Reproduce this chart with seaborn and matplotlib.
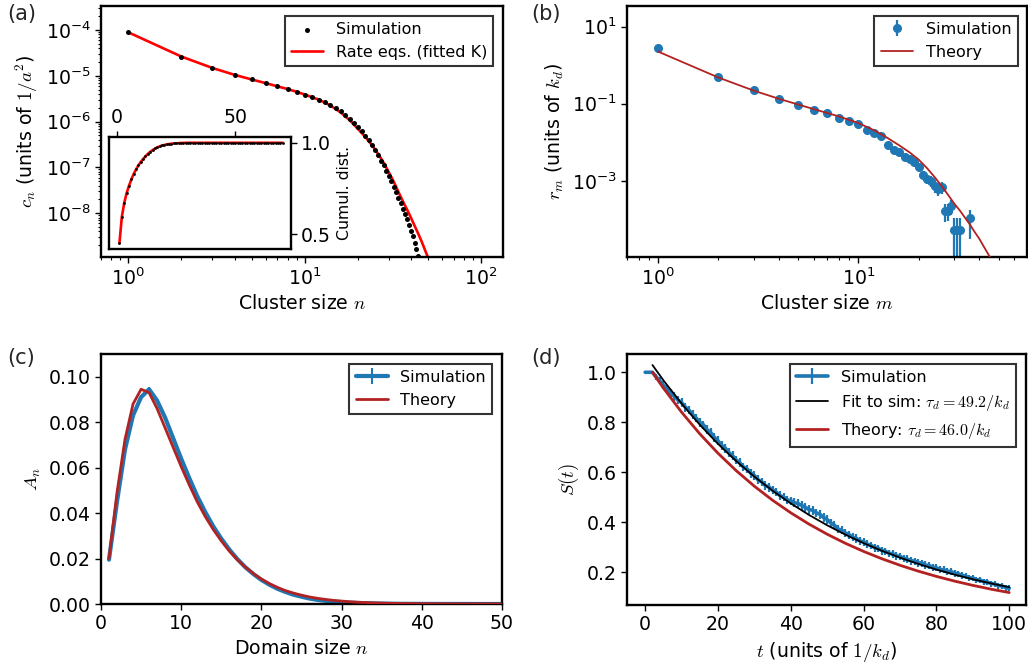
import numpy as np
import pandas as pd
import matplotlib
matplotlib.use("Agg")
import matplotlib.pyplot as plt
import seaborn as sns
from matplotlib.ticker import FixedLocator, NullLocator, FormatStrFormatter

# ---------------- data: panel (a) ----------------
n_sim_a = list(range(1, 45))
c_sim_a = [9.12e-5, 2.63e-5, 1.45e-5, 1.05e-5, 8.32e-6, 6.92e-6, 5.89e-6, 5.13e-6, 4.37e-6, 3.80e-6,
           3.39e-6, 3.02e-6, 2.63e-6, 2.29e-6, 1.95e-6, 1.66e-6, 1.38e-6, 1.15e-6, 9.33e-7, 7.59e-7,
           6.17e-7, 4.90e-7, 3.89e-7, 3.02e-7, 2.34e-7, 1.82e-7, 1.41e-7, 1.10e-7, 8.51e-8, 6.61e-8,
           5.01e-8, 3.80e-8, 2.88e-8, 2.19e-8, 1.66e-8, 1.26e-8, 9.55e-9, 7.41e-9, 5.62e-9, 4.17e-9,
           3.09e-9, 2.24e-9, 1.62e-9, 1.15e-9]
n_rate_a = [1, 2, 3, 4, 5, 6, 7, 8, 9, 10, 12, 14, 16, 18, 20, 22, 24, 25, 26, 27, 28, 29, 30,
            31, 32, 33, 34, 35, 36, 38, 40, 42, 44, 46, 48, 50]
c_rate_a = [8.91e-5, 2.63e-5, 1.48e-5, 1.05e-5, 8.32e-6, 6.92e-6, 5.89e-6, 5.13e-6, 4.47e-6, 3.89e-6,
            3.02e-6, 2.24e-6, 1.58e-6, 1.07e-6, 6.92e-7, 4.68e-7, 3.09e-7, 2.49e-7, 2.00e-7, 1.59e-7,
            1.26e-7, 9.90e-8, 7.76e-8, 6.10e-8, 4.79e-8, 3.72e-8, 2.88e-8, 2.29e-8, 1.82e-8,
            1.20e-8, 7.94e-9, 5.25e-9, 3.55e-9, 2.40e-9, 1.58e-9, 1.07e-9]

# inset: cumulative distribution
n_cum = list(range(1, 71))
cum_sim = [0.454, 0.593, 0.669, 0.724, 0.763, 0.800, 0.829, 0.855, 0.877, 0.896,
           0.912, 0.927, 0.940, 0.951, 0.961, 0.969, 0.976, 0.981, 0.986, 0.989,
           0.992, 0.994, 0.996, 0.997, 0.998, 0.999, 0.999, 1.0, 1.0, 1.0,
           1.0, 1.0, 1.0, 1.0, 1.0, 1.0, 1.0, 1.0, 1.0, 1.0,
           1.0, 1.0, 1.0, 1.0, 1.0, 1.0, 1.0, 1.0, 1.0, 1.0,
           1.0, 1.0, 1.0, 1.0, 1.0, 1.0, 1.0, 1.0, 1.0, 1.0,
           1.0, 1.0, 1.0, 1.0, 1.0, 1.0, 1.0, 1.0, 1.0, 1.0]
cum_rate = [0.452, 0.595, 0.670, 0.724, 0.764, 0.799, 0.829, 0.854, 0.876, 0.895,
            0.911, 0.926, 0.939, 0.950, 0.960, 0.968, 0.975, 0.980, 0.985, 0.988,
            0.991, 0.993, 0.995, 0.996, 0.997, 0.998, 0.999, 0.999, 1.0, 1.0,
            1.0, 1.0, 1.0, 1.0, 1.0, 1.0, 1.0, 1.0, 1.0, 1.0,
            1.0, 1.0, 1.0, 1.0, 1.0, 1.0, 1.0, 1.0, 1.0, 1.0,
            1.0, 1.0, 1.0, 1.0, 1.0, 1.0, 1.0, 1.0, 1.0, 1.0,
            1.0, 1.0, 1.0, 1.0, 1.0, 1.0, 1.0, 1.0, 1.0, 1.0]

# ---------------- data: panel (b) ----------------
m_sim_b = list(range(1, 33)) + [36]
r_sim_b = [2.75, 0.498, 0.225, 0.134, 0.0937, 0.0695, 0.057, 0.044, 0.0354, 0.0296,
           0.0211, 0.0179, 0.0145, 0.00877, 0.00627, 0.00578, 0.00412, 0.0038, 0.00307, 0.00236,
           0.00145, 0.00111, 0.00101, 7.46e-4, 6.17e-4, 6.92e-4, 1.70e-4, 1.70e-4, 2.26e-4, 5.4e-5,
           5.4e-5, 5.4e-5, 1.07e-4]
r_err_b = [0.05, 0.01, 0.006, 0.004, 0.003, 0.0025, 0.0022, 0.002, 0.0018, 0.0016,
           0.0014, 0.0013, 0.0012, 0.0009, 0.0008, 0.0007, 0.0006, 0.0006, 0.0005, 0.00045,
           0.00035, 0.0003, 0.0003, 0.00025, 0.00022, 0.00024, 8.5e-5, 8.0e-5, 9.5e-5, 5.38e-5,
           5.38e-5, 5.38e-5, 7.5e-5]
m_theory_b = [1, 2, 3, 4, 5, 6, 7, 8, 9, 10, 12, 14, 16, 18, 20, 22, 24, 26, 28, 30,
              32, 34, 36, 38, 40, 42, 44, 46]
r_theory_b = [2.25, 0.479, 0.219, 0.135, 0.0955, 0.0724, 0.0575, 0.0468, 0.0380, 0.0316,
              0.0204, 0.0129, 0.00832, 0.00550, 0.00355, 0.00214, 0.00126, 7.41e-4, 4.37e-4, 2.63e-4,
              1.74e-4, 1.12e-4, 7.41e-5, 4.79e-5, 3.24e-5, 2.09e-5, 1.38e-5, 9.33e-6]

# ---------------- data: panel (c) ----------------
n_c = list(range(1, 51))
A_sim = [0.0195, 0.0450, 0.0680, 0.0830, 0.0910, 0.0945, 0.0895, 0.0820, 0.0730, 0.0640,
         0.0555, 0.0475, 0.0405, 0.0342, 0.0288, 0.0240, 0.0198, 0.0162, 0.0132, 0.0106,
         0.0085, 0.0067, 0.0053, 0.0041, 0.0032, 0.0024, 0.0018, 0.0014, 0.0010, 0.0008,
         0.0006, 0.00045, 0.00035, 0.00025, 0.0002, 0.00015, 0.0001, 0.00008, 0.00006, 0.00004,
         0.00003, 0.00002, 0.00002, 0.00001, 0.00001, 0.00001, 0.0, 0.0, 0.0, 0.0]
A_err = [0.0006, 0.0008, 0.0009, 0.0010, 0.0010, 0.0012, 0.0010, 0.0009, 0.0009, 0.0008,
         0.0008, 0.0007, 0.0007, 0.0006, 0.0006, 0.0005, 0.0005, 0.0004, 0.0004, 0.0003,
         0.0003, 0.0003, 0.0002, 0.0002, 0.0002, 0.0002, 0.0001, 0.0001, 0.0001, 0.0001,
         0.0001, 0.0001, 0.0001, 0.0, 0.0, 0.0, 0.0, 0.0, 0.0, 0.0,
         0.0, 0.0, 0.0, 0.0, 0.0, 0.0, 0.0, 0.0, 0.0, 0.0]
A_theory = [0.0200, 0.0490, 0.0725, 0.0880, 0.0945, 0.0930, 0.0860, 0.0775, 0.0690, 0.0605,
            0.0525, 0.0450, 0.0385, 0.0328, 0.0278, 0.0233, 0.0195, 0.0162, 0.0134, 0.0110,
            0.0090, 0.0073, 0.0059, 0.0048, 0.0039, 0.0031, 0.0025, 0.0020, 0.0016, 0.0013,
            0.0010, 0.0008, 0.00065, 0.0005, 0.0004, 0.0003, 0.00025, 0.0002, 0.00015, 0.00012,
            0.0001, 0.00008, 0.00006, 0.00005, 0.00004, 0.00003, 0.000025, 0.00002, 0.000015, 0.00001]

# ---------------- data: panel (d) ----------------
t_sim = list(range(0, 101))
S_sim = [1.000, 1.000, 1.000, 0.982, 0.966, 0.948, 0.934, 0.916, 0.904, 0.889,
         0.879, 0.861, 0.849, 0.831, 0.817, 0.800, 0.790, 0.770, 0.759, 0.740,
         0.726, 0.707, 0.697, 0.679, 0.666, 0.649, 0.638, 0.621, 0.613, 0.597,
         0.587, 0.570, 0.562, 0.547, 0.541, 0.529, 0.521, 0.507, 0.501, 0.490,
         0.486, 0.478, 0.475, 0.467, 0.460, 0.451, 0.448, 0.438, 0.432, 0.419,
         0.411, 0.397, 0.388, 0.373, 0.368, 0.357, 0.351, 0.340, 0.336, 0.325,
         0.322, 0.312, 0.308, 0.299, 0.296, 0.287, 0.284, 0.276, 0.274, 0.266,
         0.264, 0.255, 0.253, 0.246, 0.245, 0.238, 0.237, 0.229, 0.227, 0.220,
         0.218, 0.211, 0.210, 0.204, 0.203, 0.196, 0.194, 0.187, 0.185, 0.178,
         0.177, 0.170, 0.169, 0.162, 0.161, 0.155, 0.153, 0.147, 0.145, 0.139,
         0.136]
S_err = [0.0, 0.0, 0.0, 0.012, 0.014, 0.016, 0.015, 0.016, 0.017, 0.016,
         0.017, 0.018, 0.017, 0.018, 0.017, 0.018, 0.017, 0.018, 0.018, 0.017,
         0.018, 0.017, 0.018, 0.017, 0.018, 0.017, 0.018, 0.017, 0.017, 0.018,
         0.017, 0.018, 0.017, 0.017, 0.018, 0.017, 0.017, 0.018, 0.017, 0.017,
         0.017, 0.018, 0.017, 0.017, 0.018, 0.017, 0.017, 0.017, 0.018, 0.017,
         0.017, 0.017, 0.016, 0.017, 0.016, 0.017, 0.016, 0.016, 0.017, 0.016,
         0.016, 0.016, 0.015, 0.016, 0.015, 0.016, 0.015, 0.015, 0.016, 0.015,
         0.015, 0.015, 0.015, 0.015, 0.014, 0.015, 0.014, 0.015, 0.014, 0.014,
         0.014, 0.014, 0.014, 0.014, 0.013, 0.014, 0.013, 0.014, 0.013, 0.013,
         0.013, 0.013, 0.013, 0.013, 0.013, 0.012, 0.013, 0.012, 0.012, 0.012,
         0.012]
t_curve = [2, 5, 10, 15, 20, 25, 30, 35, 40, 45, 50, 55, 60, 65, 70, 75, 80, 85, 90, 95, 100]
S_fit = [1.029, 0.968, 0.8746, 0.7901, 0.7137, 0.6448, 0.5824, 0.5261, 0.4753, 0.4294,
         0.3879, 0.3504, 0.3165, 0.2860, 0.2584, 0.2334, 0.2108, 0.1905, 0.1721, 0.1554, 0.1404]
S_theory = [1.000, 0.9369, 0.8404, 0.7538, 0.6762, 0.6065, 0.5441, 0.4880, 0.4378, 0.3927,
            0.3522, 0.3159, 0.2834, 0.2542, 0.2280, 0.2045, 0.1835, 0.1646, 0.1476, 0.1324, 0.1188]

# ---------------- style ----------------
sns.set_style("ticks")
plt.rcParams.update({
    "font.family": ["DejaVu Sans"],
    "mathtext.fontset": "cm",
    "font.size": 13.6,
    "axes.labelsize": 13.6,
    "xtick.labelsize": 13.6,
    "ytick.labelsize": 13.6,
    "legend.fontsize": 11.5,
    "axes.linewidth": 1.7,
    "axes.edgecolor": "black",
    "axes.labelcolor": "black",
    "text.color": "black",
    "xtick.color": "black",
    "ytick.color": "black",
    "xtick.major.size": 4.0,
    "ytick.major.size": 4.0,
    "xtick.minor.size": 2.3,
    "ytick.minor.size": 2.3,
    "xtick.major.width": 1.0,
    "ytick.major.width": 1.0,
    "xtick.minor.width": 0.8,
    "ytick.minor.width": 0.8,
    "legend.fancybox": False,
    "legend.framealpha": 1.0,
    "legend.edgecolor": "0.2",
})

BLUE = "#1f77b4"
DRED = "#b22222"

fig = plt.figure(figsize=(10.28, 6.70), dpi=100)
axA = fig.add_axes([0.0982, 0.6164, 0.3911, 0.3746])
axB = fig.add_axes([0.6099, 0.6164, 0.3893, 0.3746])
axC = fig.add_axes([0.0982, 0.0985, 0.3901, 0.3731])
axD = fig.add_axes([0.6099, 0.0970, 0.3881, 0.3746])


def style_legend(leg):
    fr = leg.get_frame()
    fr.set_linewidth(1.5)
    fr.set_edgecolor("0.2")


# ---------------- (a) ----------------
axA.set_xscale("log")
axA.set_yscale("log")
sns.lineplot(x=n_rate_a, y=c_rate_a, ax=axA, color="red", lw=1.9, zorder=2)
hA_line = axA.lines[-1]
sns.scatterplot(x=n_sim_a, y=c_sim_a, ax=axA, color="k", s=13, linewidth=0, zorder=3)
hA_dots = axA.collections[-1]
axA.set_xlim(0.70, 133)
axA.set_ylim(1.1e-9, 3.34e-4)
axA.yaxis.set_major_locator(FixedLocator([1e-8, 1e-7, 1e-6, 1e-5, 1e-4]))
axA.set_xlabel(r"Cluster size $n$")
axA.set_ylabel(r"$c_n$ (units of $1/a^2$)")
legA = axA.legend([hA_dots, hA_line], ["Simulation", "Rate eqs. (fitted K)"],
                  loc="upper right", scatterpoints=1, borderaxespad=0.6)
style_legend(legA)

# inset
axIn = fig.add_axes([0.1063, 0.6284, 0.1765, 0.1667])
sns.lineplot(x=n_cum, y=cum_rate, ax=axIn, color="red", lw=1.9, zorder=2)
sns.scatterplot(x=n_cum, y=cum_sim, ax=axIn, color="k", s=4, linewidth=0, zorder=3)
axIn.set_xlim(-3.3, 73.4)
axIn.set_ylim(0.42, 1.03)
axIn.xaxis.tick_top()
axIn.yaxis.tick_right()
axIn.yaxis.set_label_position("right")
axIn.set_xticks([0, 50])
axIn.set_yticks([0.5, 1.0])
axIn.yaxis.set_major_formatter(FormatStrFormatter("%.1f"))
axIn.set_ylabel("Cumul. dist.", fontsize=11.3, labelpad=4)
axIn.set_xlabel("")
for sp in axIn.spines.values():
    sp.set_linewidth(1.7)

# ---------------- (b) ----------------
axB.set_xscale("log")
axB.set_yscale("log")
hB_err = axB.errorbar(m_sim_b, r_sim_b, yerr=r_err_b, fmt="o", color=BLUE, ms=5.5,
                      elinewidth=1.6, capsize=0, zorder=2)
sns.lineplot(x=m_theory_b, y=r_theory_b, ax=axB, color=DRED, lw=1.3, zorder=3)
hB_line = axB.lines[-1]
axB.set_xlim(0.70, 69.5)
axB.set_ylim(1.07e-5, 34)
axB.yaxis.set_major_locator(FixedLocator([1e-3, 1e-1, 1e1]))
axB.yaxis.set_minor_locator(NullLocator())
axB.set_xlabel(r"Cluster size $m$")
axB.set_ylabel(r"$r_m$ (units of $k_d$)")
legB = axB.legend([hB_err, hB_line], ["Simulation", "Theory"], loc="upper right",
                  borderaxespad=0.6)
style_legend(legB)

# ---------------- (c) ----------------
hC_err = axC.errorbar(n_c, A_sim, yerr=A_err, color=BLUE, lw=3.0, elinewidth=1.5,
                      capsize=0, zorder=2)
sns.lineplot(x=n_c, y=A_theory, ax=axC, color=DRED, lw=2.0, zorder=3)
hC_line = axC.lines[-1]
axC.set_xlim(0, 50)
axC.set_ylim(0, 0.11)
axC.set_yticks([0.0, 0.02, 0.04, 0.06, 0.08, 0.10])
axC.yaxis.set_major_formatter(FormatStrFormatter("%.2f"))
axC.set_xlabel(r"Domain size $n$")
axC.set_ylabel(r"$A_n$")
legC = axC.legend([hC_err, hC_line], ["Simulation", "Theory"], loc="upper right",
                  borderaxespad=0.6)
style_legend(legC)

# ---------------- (d) ----------------
hD_err = axD.errorbar(t_sim, S_sim, yerr=S_err, color=BLUE, lw=2.6, elinewidth=1.6,
                      capsize=0, zorder=2)
sns.lineplot(x=t_curve, y=S_fit, ax=axD, color="k", lw=1.3, zorder=3)
hD_fit = axD.lines[-1]
sns.lineplot(x=t_curve, y=S_theory, ax=axD, color=DRED, lw=2.0, zorder=3)
hD_th = axD.lines[-1]
axD.set_xlim(-5, 104.6)
axD.set_ylim(0.069, 1.073)
axD.set_xticks([0, 20, 40, 60, 80, 100])
axD.set_yticks([0.2, 0.4, 0.6, 0.8, 1.0])
axD.yaxis.set_major_formatter(FormatStrFormatter("%.1f"))
axD.set_xlabel(r"$t$ (units of $1/k_d$)")
axD.set_ylabel(r"$S(t)$")
legD = axD.legend([hD_err, hD_fit, hD_th],
                  ["Simulation", r"Fit to sim: $\tau_d = 49.2/k_d$",
                   r"Theory: $\tau_d = 46.0/k_d$"],
                  loc="upper right", borderaxespad=0.6)
style_legend(legD)

# panel labels
for xx, yy, lab in [(7, 4, "(a)"), (531, 4, "(b)"), (7, 348, "(c)"), (531, 348, "(d)")]:
    fig.text(xx / 1028, 1 - yy / 670, lab, fontsize=15, color="0.15", ha="left", va="top")

fig.savefig("out.png", dpi=100)
